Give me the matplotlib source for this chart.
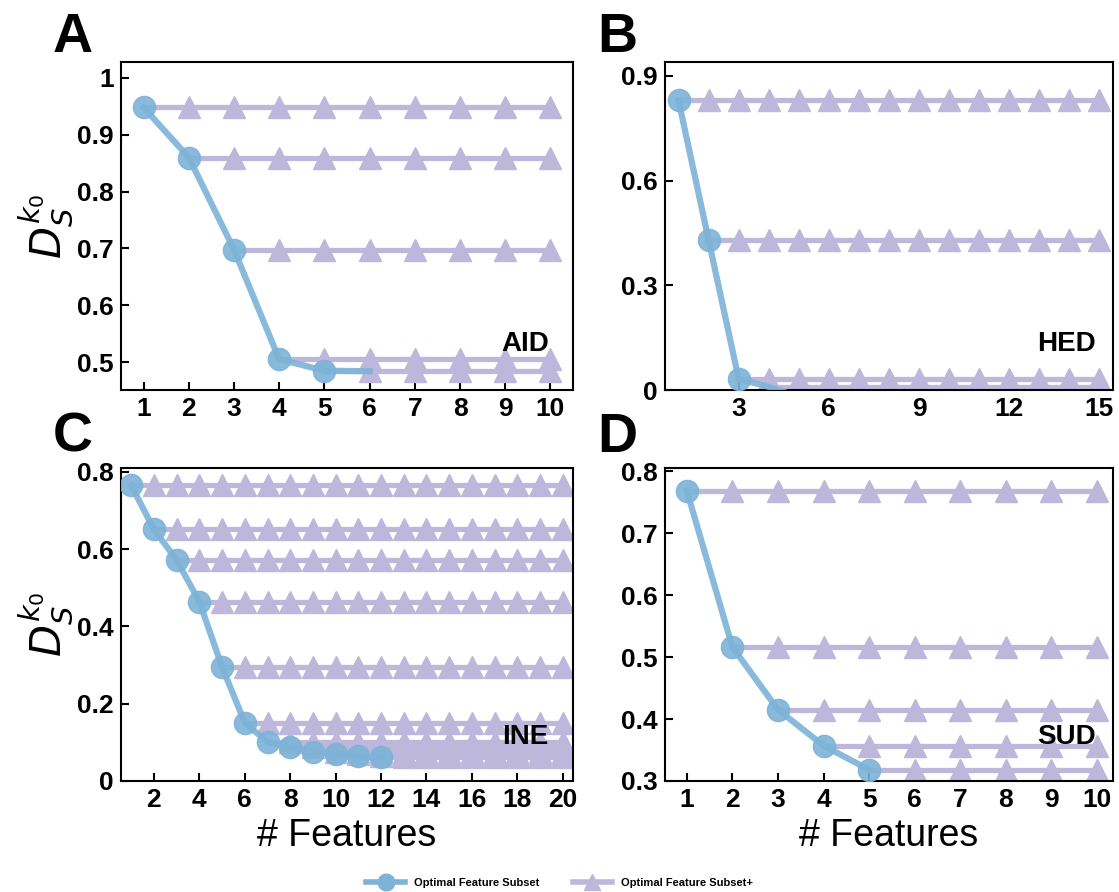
import numpy as np
import matplotlib.pyplot as plt
from matplotlib.lines import Line2D
from matplotlib.ticker import FuncFormatter

plt.rcParams['font.family'] = ['Liberation Sans', 'DejaVu Sans']
plt.rcParams['mathtext.fontset'] = 'dejavusans'

# optimal subset score D_S^k0 for 1..n features, per dataset
aid_opt = [0.948, 0.860, 0.698, 0.505, 0.485, 0.484]
hed_opt = [0.830, 0.430, 0.032, 0.009, -0.02]
ine_opt = [0.765, 0.651, 0.572, 0.464, 0.295, 0.151, 0.101, 0.087,
           0.076, 0.069, 0.064, 0.061]
sud_opt = [0.768, 0.516, 0.415, 0.357, 0.318]

panels = [
    dict(tag="A", name="AID", opt=aid_opt, nmark=5, nplus=5, xmax=10,
         xlim=(0.5, 10.5), ylim=(0.451, 1.028),
         xticks=list(range(1, 11)), yticks=[0.5, 0.6, 0.7, 0.8, 0.9, 1.0]),
    dict(tag="B", name="HED", opt=hed_opt, nmark=3, nplus=4, xmax=15,
         xlim=(0.55, 15.45), ylim=(0, 0.94),
         xticks=[3, 6, 9, 12, 15], yticks=[0, 0.3, 0.6, 0.9]),
    dict(tag="C", name="INE", opt=ine_opt, nmark=12, nplus=12, xmax=20,
         xlim=(0.55, 20.45), ylim=(0, 0.81),
         xticks=list(range(2, 21, 2)), yticks=[0, 0.2, 0.4, 0.6, 0.8]),
    dict(tag="D", name="SUD", opt=sud_opt, nmark=5, nplus=5, xmax=10,
         xlim=(0.52, 10.35), ylim=(0.3, 0.805),
         xticks=list(range(1, 11)), yticks=[0.3, 0.4, 0.5, 0.6, 0.7, 0.8]),
]

blue = "#7db3d7"
lav = "#bdb7db"

fig = plt.figure(figsize=(11.19, 8.92), dpi=100)
W, H = 1119, 892
boxes = [(121, 62, 573, 390), (665, 62, 1113, 390),
         (121, 468, 573, 781), (665, 468, 1113, 781)]

fmt = FuncFormatter(lambda v, p: "%g" % round(v, 2))

for p, (x0, y0, x1, y1) in zip(panels, boxes):
    ax = fig.add_axes([x0 / W, 1 - y1 / H, (x1 - x0) / W, (y1 - y0) / H])
    opt = p["opt"]
    for k in range(p["nplus"]):
        xp = np.arange(k + 1, p["xmax"] + 1)
        ax.plot(xp, [opt[k]] * len(xp), "-^", color=lav, lw=3.8, ms=16,
                markevery=slice(1, None), zorder=2)
    xs = np.arange(1, len(opt) + 1)
    ax.plot(xs, opt, "-o", color=blue, lw=4.5, ms=16, alpha=0.9,
            markevery=slice(0, p["nmark"]), zorder=3)
    ax.set_xlim(*p["xlim"])
    ax.set_ylim(*p["ylim"])
    ax.set_xticks(p["xticks"])
    ax.set_yticks(p["yticks"])
    ax.yaxis.set_major_formatter(fmt)
    ax.tick_params(direction="in", length=6, width=1.5, labelsize=19, pad=5)
    for lab in ax.get_xticklabels() + ax.get_yticklabels():
        lab.set_fontweight("bold")
    for s in ax.spines.values():
        s.set_linewidth(1.5)
    ax.text(0.895, 0.14, p["name"], transform=ax.transAxes, ha="center",
            va="center", fontsize=20, fontweight="bold", zorder=5)
    fig.text((x0 - 48) / W, 1 - 38 / H if y0 < 100 else 1 - 438 / H,
             p["tag"], fontsize=40, fontweight="bold", ha="center", va="center")
    if p["tag"] in ("A", "C"):
        ax.set_ylabel(r"$D_S^{k_0}$", fontsize=30, labelpad=2)
    if p["tag"] in ("C", "D"):
        ax.set_xlabel("# Features", fontsize=27, labelpad=4)

handles = [Line2D([], [], color=blue, lw=4, marker="o", ms=12),
           Line2D([], [], color=lav, lw=4, marker="^", ms=12)]
fig.legend(handles, ["Optimal Feature Subset", "Optimal Feature Subset+"],
           loc="center", bbox_to_anchor=(0.5, 1 - 883 / H), ncol=2,
           frameon=False, prop={"size": 8, "weight": "bold"},
           handlelength=3.5, columnspacing=3)

fig.savefig("out.png", dpi=100)
